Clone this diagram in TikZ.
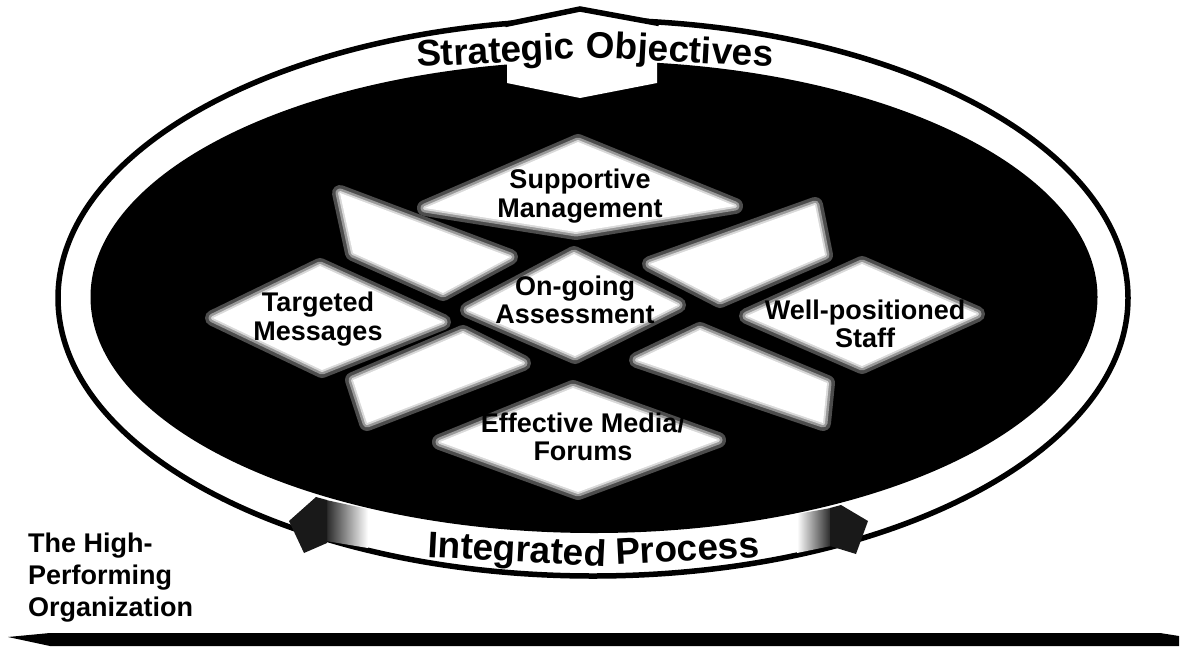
\documentclass[tikz,border=0pt]{standalone}
\usepackage{fontspec}
\setmainfont{Liberation Sans}
\newcommand{\softcell}[1]{%
  \draw[black!70, line width=16pt, line join=round] #1;
  \draw[black!40, line width=9pt, line join=round] #1;
  \draw[black!15, line width=4pt, line join=round] #1;
  \fill[white] #1;}
\begin{document}
\begin{tikzpicture}[x=1pt,y=-1pt,
  lbl/.style={font=\fontsize{27}{28.5}\selectfont\bfseries, align=center, inner sep=0pt},
  ringtext/.style={font=\fontsize{37}{40}\selectfont\bfseries, inner sep=0pt},
  corner/.style={font=\fontsize{27}{32}\selectfont\bfseries, align=left, inner sep=0pt},
  rimline/.style={line width=5.5pt, draw=black},
  headfill/.style={fill=black!90},
]
\useasboundingbox (0,0) rectangle (1181,646);
\fill[white] (0,0) rectangle (1181,646);

% ring
\filldraw[rimline, fill=white] (593,298) ellipse [x radius=535, y radius=278];
\fill[black] (594,297) ellipse [x radius=503.5, y radius=236];

% cells of the lattice
\softcell{(425,208) -- (578,142) -- (735,206) -- (576,232) -- cycle}
\softcell{(468,310) -- (574,254) -- (678,305) -- (575,356) -- cycle}
\softcell{(440,442) -- (573,388) -- (718,440) -- (578,492) -- cycle}
\softcell{(213,318) -- (320,266) -- (443,322) -- (322,370) -- cycle}
\softcell{(747,316) -- (862,264) -- (977,314) -- (862,366) -- cycle}
\softcell{(340,193) -- (510,257) -- (443,293) -- (353,253) -- cycle}
\softcell{(353,380) -- (463,333) -- (523,363) -- (367,423) -- cycle}
\softcell{(815,205) -- (825,255) -- (720,300) -- (650,264) -- cycle}
\softcell{(700,330) -- (827,383) -- (823,423) -- (637,360) -- cycle}

% strategic objectives arrow
\fill[white] (507,24) -- (580,9) -- (657,23) -- (657,83) -- (580,98) -- (507,83) -- cycle;
\draw[rimline, line join=miter] (505,24.5) -- (580,9) -- (659,23.5);

% integrated process arrow heads
\shade[left color=black!85, right color=white] (326,500) -- (368,509) -- (368,548) -- (326,541) -- cycle;
\fill[headfill] (289,521) -- (316,497) -- (327,500) -- (327,543) -- (304,553) -- cycle;
\shade[left color=white, right color=black!85] (797,514) -- (831,508) -- (831,546) -- (797,553) -- cycle;
\fill[headfill] (830,508) -- (841,505) -- (868,521) -- (856,554) -- (830,546) -- cycle;

% labels
\node[lbl] (sup) at (580,196) {Supportive\\Management};
\node[lbl] (ong) at (575,300) {On-going\\Assessment};
\node[lbl] (eff) at (583,437) {Effective Media/\\Forums};
\node[lbl] (tar) at (318,319) {Targeted\\Messages};
\node[lbl] (wel) at (865,324) {Well-positioned\\Staff};

\node[ringtext, anchor=base west, rotate=3] (so1) at (417,67) {Strategic};
\node[ringtext, anchor=base east, rotate=-3] (so2) at (773,67) {Objectives};
\node[ringtext, anchor=base west, rotate=-3] (ip1) at (427,557) {Integrated};
\node[ringtext, anchor=base east, rotate=3] (ip2) at (760,557) {Process};
\node[corner, anchor=north west] (hpo) at (28,533) {The High-\\Performing\\Organization};

% base line
\fill[black] (8,637) -- (50,633) -- (1160,633) -- (1179,636) -- (1179,646) -- (50,646) -- cycle;
\end{tikzpicture}
\end{document}
